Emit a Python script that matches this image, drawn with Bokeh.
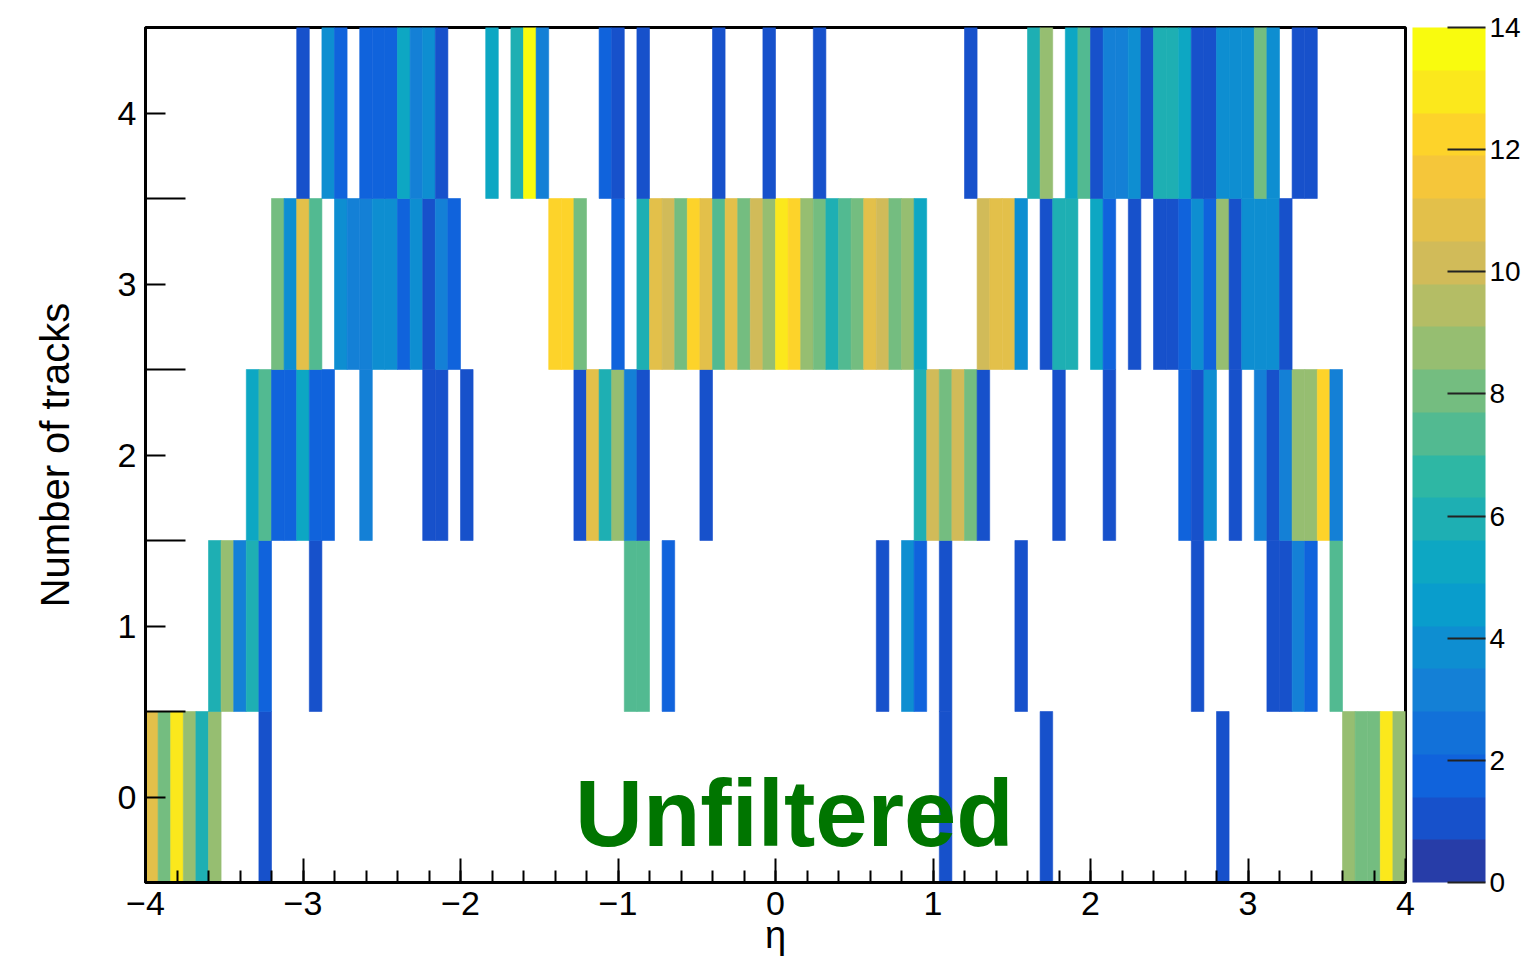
import numpy as np
from bokeh.plotting import figure
from bokeh.models import (ColumnDataSource, LinearColorMapper, ColorBar, FixedTicker,
                          SingleIntervalTicker, Label, Range1d)
from bokeh.transform import transform
from bokeh.embed import file_html
from bokeh.resources import INLINE

# ---------------- data (eta bins: 100 bins from -4 to 4) ----------------
ETA_MIN, ETA_MAX, N_BINS = -4.0, 4.0, 100

row0_bins   = [0, 1, 2, 3, 4, 5, 9, 63, 71, 85, 95, 96, 97, 98, 99]
row0_counts = [11, 8, 13, 9, 6, 9, 1, 1, 1, 1, 9, 8, 8, 13, 9]

row1_bins   = [5, 6, 7, 8, 9, 13, 38, 39, 41, 58, 60, 61, 63, 69, 83, 89, 90, 91, 92, 94]
row1_counts = [6, 9, 3, 6, 2, 1, 7, 7, 2, 1, 4, 2, 1, 1, 1, 1, 1, 3, 2, 7]

row2_bins   = [8, 9, 10, 11, 12, 13, 14, 17, 22, 23, 25, 34, 35, 36, 37, 38, 39, 44,
               61, 62, 63, 64, 65, 66, 72, 76, 82, 83, 84, 86, 88, 89, 90, 91, 92, 93, 94]
row2_counts = [5, 7, 2, 2, 5, 2, 2, 3, 1, 1, 1, 1, 11, 6, 9, 3, 1, 1,
               6, 10, 8, 10, 8, 1, 1, 1, 2, 1, 4, 1, 3, 1, 3, 9, 9, 12, 3]

row3_bins   = [10, 11, 12, 13, 15, 16, 17, 18, 19, 20, 21, 22, 23, 24, 32, 33, 34, 37,
               39, 40, 41, 42, 43, 44, 45, 46, 47, 48, 49, 50, 51, 52, 53, 54, 55, 56,
               57, 58, 59, 60, 61, 66, 67, 68, 69, 71, 72, 73, 75, 76, 78, 80, 81, 82,
               83, 84, 85, 86, 87, 88, 89, 90]
row3_counts = [8, 4, 11, 7, 4, 3, 3, 4, 4, 2, 4, 1, 3, 2, 12, 12, 8, 2,
               6, 11, 10, 8, 12, 11, 7, 11, 8, 10, 9, 13, 12, 9, 8, 6, 7, 8,
               11, 10, 8, 9, 5, 10, 11, 11, 4, 1, 6, 6, 5, 2, 1, 1, 1, 2,
               4, 2, 9, 1, 4, 4, 4, 1]

row4_bins   = [12, 14, 15, 17, 18, 19, 20, 21, 22, 23, 27, 29, 30, 31, 36, 37, 39, 45,
               49, 53, 65, 70, 71, 73, 74, 75, 76, 77, 78, 79, 80, 81, 82, 83, 84, 85,
               86, 87, 88, 89, 91, 92]
row4_counts = [1, 4, 2, 2, 2, 2, 5, 3, 4, 1, 5, 6, 14, 3, 2, 1, 1, 1,
               1, 1, 1, 6, 9, 5, 7, 1, 3, 3, 4, 1, 6, 6, 5, 1, 1, 4,
               4, 4, 8, 4, 1, 1]

n_tracks = [0, 1, 2, 3, 4]
x_ticks = [-4, -3, -2, -1, 0, 1, 2, 3, 4]
y_ticks = [0, 1, 2, 3, 4]
z_ticks = [0, 2, 4, 6, 8, 10, 12, 14]
Z_MAX = 14

# ---------------- ROOT "kBird" palette, 20 contour levels ----------------
stops = [0.0, 0.125, 0.25, 0.375, 0.5, 0.625, 0.75, 0.875, 1.0]
red   = [0.2082, 0.0592, 0.0780, 0.0232, 0.1802, 0.5301, 0.8186, 0.9956, 0.9764]
green = [0.1664, 0.3599, 0.5041, 0.6419, 0.7178, 0.7492, 0.7328, 0.7862, 0.9832]
blue  = [0.5293, 0.8684, 0.8385, 0.7914, 0.6425, 0.4662, 0.3499, 0.1968, 0.0539]
N_CONT = 20
palette = []
for i in range(N_CONT):
    f = int((i + 0.99) * 255 / N_CONT) / 254.0
    r = np.interp(f, stops, red); g = np.interp(f, stops, green); b = np.interp(f, stops, blue)
    palette.append("#%02x%02x%02x" % (int(round(r * 255)), int(round(g * 255)), int(round(b * 255))))

mapper = LinearColorMapper(palette=palette, low=0, high=Z_MAX)

# ---------------- build cell table ----------------
bin_w = (ETA_MAX - ETA_MIN) / N_BINS
xs, ys, zs = [], [], []
for row, bins, cnts in zip(n_tracks,
                           [row0_bins, row1_bins, row2_bins, row3_bins, row4_bins],
                           [row0_counts, row1_counts, row2_counts, row3_counts, row4_counts]):
    for b, c in zip(bins, cnts):
        xs.append(ETA_MIN + (b + 0.5) * bin_w)
        ys.append(row)
        zs.append(c)
src = ColumnDataSource(dict(eta=xs, ntr=ys, count=zs))

FONT = "Liberation Sans"

p = figure(width=1522, height=960, output_backend="svg", toolbar_location=None,
           x_range=Range1d(ETA_MIN, ETA_MAX), y_range=Range1d(-0.5, 4.5),
           min_border_left=145, min_border_right=117, min_border_top=27, min_border_bottom=78)

p.rect(x="eta", y="ntr", width=bin_w, height=1.0, source=src,
       fill_color=transform("count", mapper), line_color=transform("count", mapper),
       line_width=0.6)

p.grid.visible = False
p.background_fill_color = "white"
p.border_fill_color = "white"
p.outline_line_color = "black"
p.outline_line_width = 3

# x axis
xa = p.xaxis[0]
xa.ticker = SingleIntervalTicker(interval=1, num_minor_ticks=5)
xa.axis_label = "η"
xa.axis_line_width = 3
xa.major_tick_in = 24
xa.major_tick_out = 0
xa.minor_tick_in = 12
xa.minor_tick_out = 0
xa.major_tick_line_width = 2
xa.minor_tick_line_width = 2
xa.major_label_standoff = 9
xa.axis_label_standoff = -4
xa.major_label_text_font = FONT
xa.major_label_text_font_size = "34px"
xa.major_label_text_color = "black"
xa.axis_label_text_font = FONT
xa.axis_label_text_font_size = "38px"
xa.axis_label_text_font_style = "normal"
xa.axis_label_text_color = "black"
xa.major_label_overrides = {t: ("\u2212%d" % -t if t < 0 else "%d" % t) for t in x_ticks}

# y axis
ya = p.yaxis[0]
ya.ticker = FixedTicker(ticks=y_ticks, minor_ticks=[0.5, 1.5, 2.5, 3.5])
ya.axis_label = "Number of tracks"
ya.axis_line_width = 3
ya.major_tick_in = 20
ya.major_tick_out = 0
ya.minor_tick_in = 40
ya.minor_tick_out = 0
ya.major_tick_line_width = 2
ya.minor_tick_line_width = 2
ya.major_label_standoff = 9
ya.axis_label_standoff = 38
ya.major_label_text_font = FONT
ya.major_label_text_font_size = "34px"
ya.major_label_text_color = "black"
ya.axis_label_text_font = FONT
ya.axis_label_text_font_size = "40px"
ya.axis_label_text_font_style = "normal"
ya.axis_label_text_color = "black"

# colour bar (placed just right of the frame, like ROOT's palette axis)
cb = ColorBar(color_mapper=mapper, ticker=FixedTicker(ticks=z_ticks),
              width=73, height=855, padding=0, margin=0, location=(1267, 0),
              major_tick_in=38, major_tick_out=0,
              major_tick_line_color="#222222", major_tick_line_width=2,
              minor_tick_line_color=None,
              major_label_text_font=FONT, major_label_text_font_size="28px",
              major_label_text_color="black", label_standoff=4,
              bar_line_color=None, border_line_color=None,
              background_fill_color=None)
p.add_layout(cb, "center")

# annotation
p.add_layout(Label(x=0.12, y=-0.097, text="Unfiltered", text_align="center",
                   text_baseline="alphabetic", text_font=FONT,
                   text_font_size="94px", text_font_style="bold",
                   text_color="#007500"))

open("out.html", "w").write(file_html(p, INLINE))
